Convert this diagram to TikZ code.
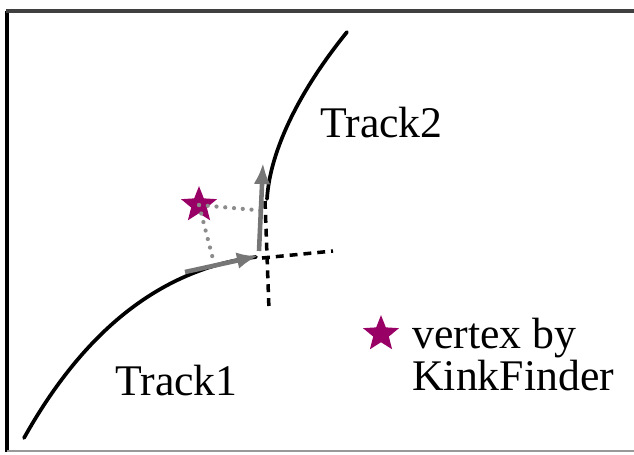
\documentclass[tikz,border=0pt]{standalone}
\usepackage{fontspec}
\setmainfont{Liberation Serif}
\usetikzlibrary{arrows.meta,shapes.geometric}
\definecolor{kinkpurple}{RGB}{153,0,102}
\definecolor{arrowgray}{RGB}{118,118,118}
\definecolor{dotgray}{RGB}{140,140,140}
\tikzstyle{track}=[draw,black,line width=2.1pt,line cap=round]
\tikzstyle{extension}=[draw,black,line width=2pt,dash pattern=on 4.5pt off 3.4pt]
\tikzstyle{momentum}=[draw,arrowgray,line width=2.6pt,-{Latex[length=12pt,width=9.5pt]}]
\tikzstyle{projection}=[draw,dotgray,line width=2.4pt,line cap=round,dash pattern=on 0pt off 5pt]
\tikzstyle{vertex}=[star,star points=5,star point ratio=2.3,fill=kinkpurple,minimum size=21.5pt,inner sep=0pt]
\tikzstyle{tracklabel}=[font=\fontsize{24.9}{17.8}\selectfont,inner sep=0pt]

\begin{document}
\begin{tikzpicture}[x=0.02cm,y=-0.02cm]

    \useasboundingbox (0,0) rectangle (634,454);

    % frame
    \draw[black,line width=2pt] (7,11) -- (7,452);
    \draw[black!75,line width=2pt] (6,11) -- (634,11);
    \draw[black!40,line width=1.2pt] (7,451) -- (634,451);

    \coordinate (t1start) at (24,438);
    \coordinate (kink) at (256,257);
    \coordinate (t2start) at (267,199);
    \coordinate (t2end) at (347,32);

    \draw[track] (t1start) .. controls (90,320) and (170,268) .. (kink);
    \draw[track] (t2start) .. controls (270,150) and (300,90) .. (t2end);

    % extrapolated tracks
    \coordinate (ext2a) at (265,201);
    \coordinate (ext2b) at (269,310);
    \coordinate (ext1a) at (262,258);
    \coordinate (ext1b) at (333,251);
    \foreach \source/\dest in {ext2a/ext2b, ext1a/ext1b}
        \path[extension] (\source) -- (\dest);

    \node[vertex] (vtx) at (199,205) {};

    \coordinate (foot1) at (214,263);
    \coordinate (foot2) at (267,211);
    \foreach \dest in {foot1, foot2}
        \path[projection] (vtx.center) -- (\dest);

    % momenta at the kink
    \coordinate (p1tail) at (185,272);
    \coordinate (p1tip) at (258,256);
    \coordinate (p2tail) at (259,251);
    \coordinate (p2tip) at (263,163);
    \foreach \source/\dest in {p1tail/p1tip, p2tail/p2tip}
        \path[momentum] (\source) -- (\dest);

    \node[tracklabel, anchor=base west] (tracktwo) at (320,137) {Track2};
    \node[tracklabel, anchor=base west] (trackone) at (115,395) {Track1};

    \node[vertex] (legendstar) at (381,334) {};
    \node[tracklabel, anchor=north west, align=left] (legendtext) at (412,318) {vertex by\\KinkFinder};

\end{tikzpicture}
\end{document}
